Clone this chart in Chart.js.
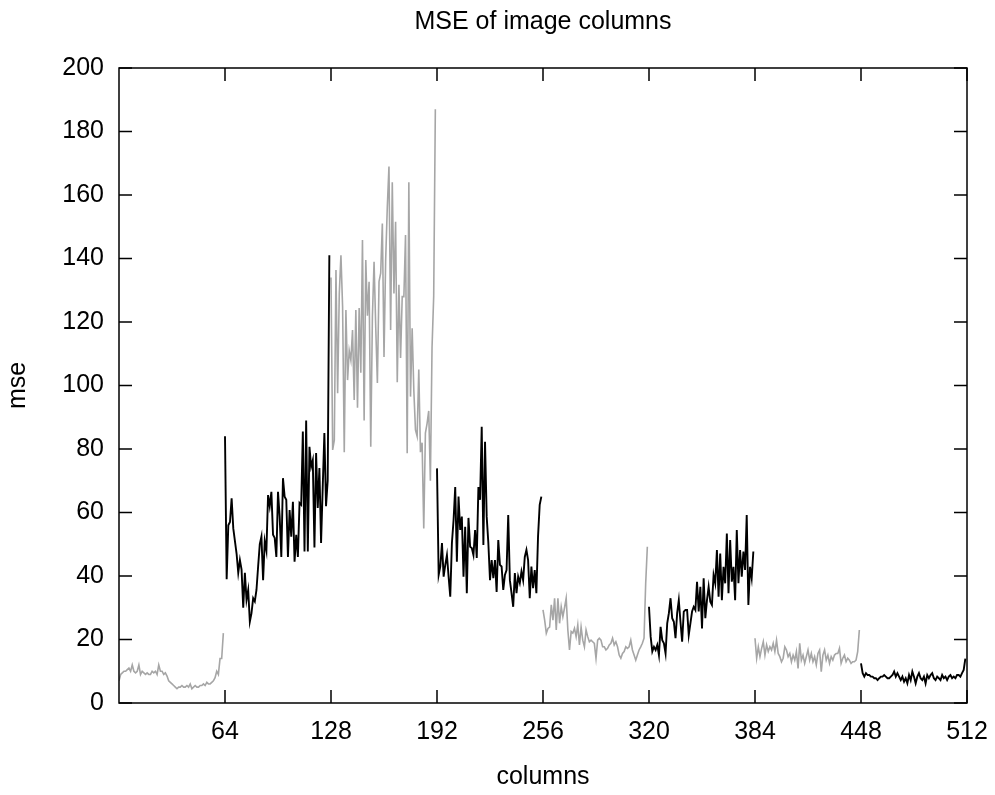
<!DOCTYPE html>
<html>
<head>
<meta charset="utf-8">
<script src="https://cdn.jsdelivr.net/npm/chart.js@4/dist/chart.umd.min.js"></script>
<style>
  html, body { margin: 0; padding: 0; background: #fff; }
  #wrap { width: 995px; height: 795px; }
</style>
</head>
<body>
<div id="wrap"><canvas id="myChart" width="995" height="795"></canvas></div>
<script>
// x ticks (columns) and y ticks (mse)
var xTicks = [64, 128, 192, 256, 320, 384, 448, 512];
var yTicks = [0, 20, 40, 60, 80, 100, 120, 140, 160, 180, 200];

// each block of 64 columns is its own line, alternating gray / black
var segStart = [0, 64, 128, 192, 256, 320, 384, 448];
var segColor = ['#a6a6a6', '#000000', '#a6a6a6', '#000000', '#a6a6a6', '#000000', '#a6a6a6', '#000000'];

var mse0 = [7, 9, 9.5, 10, 10, 10.5, 11, 10, 12, 10, 9.5, 10, 12, 9, 10, 9.5,
    9, 9.5, 9, 9, 10, 9.5, 10, 9, 12, 10, 10, 9, 9.5, 8.5, 7, 6.5,
    6, 5.5, 5, 4.5, 5, 5, 5.5, 5, 5, 5.5, 5, 6, 4.5, 5, 5.5, 5,
    5, 5.5, 5.5, 6, 5.5, 6.5, 6, 6, 6.5, 7, 8, 10, 9, 14, 14, 22];
var mse1 = [84, 39, 56, 57, 64.5, 55, 51, 47, 41, 45, 42, 30, 41, 32.5, 35.6, 25.6,
    28.3, 33, 32, 35.6, 43, 50, 52.4, 38.7, 51, 48, 65.5, 62, 66.5, 53, 52, 46,
    66.5, 58.7, 46, 70.8, 65, 64, 46, 60.8, 52.4, 63.4, 44.5, 53, 46, 63, 62.4, 85.5,
    47.7, 89, 47.7, 80.7, 74.4, 76.5, 49, 78.7, 61.4, 74, 50.4, 68, 85, 62, 70, 141];
var mse2 = [134, 79.7, 82.8, 136.4, 97.6, 129, 141, 124.8, 79, 123.8, 101.7, 111, 108, 117.5, 95.4, 123.8,
    93, 124.4, 104, 145.8, 89, 139.5, 122, 132.7, 80.7, 121.7, 139, 118.5, 100.8, 132.7, 135.4, 151,
    109, 139.5, 156.3, 169, 117.5, 164, 129, 151.6, 101, 131.7, 108.7, 128, 128, 147.4, 78.7, 164,
    96.5, 118, 98.6, 86, 84, 105, 79, 82, 55, 85, 88, 92, 70, 112, 128, 187];
var mse3 = [73.9, 40.3, 43, 50.4, 39.8, 43.5, 46.6, 39.8, 33.5, 50.4, 57.6, 68, 44.5, 65, 54.5, 58.7,
    39.8, 55.5, 34.6, 58.3, 49.2, 48.8, 46.6, 54.5, 45.7, 68, 64, 87, 49.8, 82.3, 58.7, 50.4,
    38.7, 45, 39.3, 45, 35, 51.3, 43.5, 43, 35.6, 40.3, 41.9, 59.2, 38.7, 34.6, 30.3, 40.9,
    34.6, 39.8, 37.8, 41.4, 38.7, 46, 48.2, 45, 33, 43, 36.2, 41.9, 34.6, 52.4, 62.4, 65];
var mse4 = [29.3, 26.1, 22, 23.5, 23.9, 30.9, 26.1, 33, 23, 33, 25.1, 30.3, 27.2, 30, 33, 23,
    16.7, 22.5, 22, 23.5, 20.9, 24.6, 18.3, 23.9, 19.8, 17.7, 23, 20.9, 19.3, 19.8, 19.3, 18.8,
    14.1, 19.8, 20.4, 19.8, 17.7, 17.7, 16.7, 17.2, 18.3, 18.8, 20.4, 18.3, 19.3, 17.7, 15.1, 14.1,
    15.6, 16.2, 17.7, 17.2, 17.7, 19.8, 16.7, 15.1, 13.5, 15.1, 16.7, 17.7, 18.8, 20.4, 37.7, 49.2];
var mse5 = [30.3, 20.9, 16.2, 17.7, 16.7, 18.3, 15.1, 24, 19.8, 18.8, 15.6, 25.1, 28.3, 33, 26.7, 25.6,
    20.4, 28.3, 32.4, 25.6, 19.3, 28.8, 29.3, 29.3, 21.4, 25.1, 28.8, 30.3, 29.3, 38.2, 28.8, 36.6,
    23.5, 39.3, 26.7, 32.4, 36.6, 31.9, 30.9, 40.3, 37.7, 48.2, 33.5, 47.1, 32.4, 42.9, 37.7, 53.4,
    34.6, 51.3, 38.2, 42.9, 32.4, 54.5, 37.7, 48.2, 39.8, 47.7, 41.9, 59.2, 30.9, 42.9, 39.3, 47.7];
var mse6 = [20.4, 14.1, 17.7, 14.6, 17.2, 19.3, 15.1, 18.3, 16.2, 17.7, 16.7, 18.8, 16.2, 19.8, 15.6, 14.6,
    13, 14.1, 17.7, 16.7, 14.6, 15.6, 13, 15.1, 13.5, 16.2, 10.9, 18.8, 13.5, 15.1, 12.5, 14.6,
    16.7, 13.5, 15.6, 13, 14.6, 12, 15.6, 16.7, 9.9, 15.1, 16.7, 13.5, 15.1, 12.5, 14.6, 13.5,
    15.1, 15.6, 15.6, 17.2, 12.5, 14.1, 15.1, 13, 14.1, 13.5, 12.5, 13, 13, 13.5, 16.2, 23];
var mse7 = [12.5, 9.4, 8.3, 9.4, 8.8, 8.8, 8.3, 8.3, 7.8, 7.8, 7.2, 7.8, 8.3, 8.3, 8.8, 8.3,
    7.8, 7.8, 8.3, 8.8, 9.9, 8.3, 9.4, 8.3, 7.2, 8.3, 6.7, 7.8, 6.2, 8.8, 7.2, 9.9,
    8.3, 6.2, 8.3, 9.4, 7.8, 7.2, 8.3, 6.2, 8.8, 7.8, 8.8, 9.4, 7.8, 7.2, 8.3, 7.8,
    7.2, 8.8, 7.8, 8.3, 7.2, 8.3, 8.8, 7.8, 8.3, 7.8, 8.8, 8.8, 8.3, 9.4, 10.4, 14];

var segments = [mse0, mse1, mse2, mse3, mse4, mse5, mse6, mse7];

var datasets = segments.map(function (vals, s) {
    return {
        data: vals.map(function (v, i) { return { x: segStart[s] + i, y: v }; }),
        borderColor: segColor[s],
        borderWidth: s % 2 ? 1.9 : 1.6,
        pointRadius: 0,
        tension: 0,
        fill: false
    };
});

var FONT = { family: '"Liberation Sans", Arial, sans-serif', size: 25 };

// gnuplot style frame with inward ticks on all four sides
var framePlugin = {
    id: 'frame',
    afterDraw: function (chart) {
        var c = chart.ctx, a = chart.chartArea;
        var xs = chart.scales.x, ys = chart.scales.y;
        var len = 13;
        c.save();
        c.strokeStyle = '#000';
        c.lineWidth = 1.5;
        c.beginPath();
        xTicks.forEach(function (t) {
            var px = xs.getPixelForValue(t);
            c.moveTo(px, a.bottom); c.lineTo(px, a.bottom - len);
            c.moveTo(px, a.top); c.lineTo(px, a.top + len);
        });
        yTicks.forEach(function (t) {
            var py = ys.getPixelForValue(t);
            c.moveTo(a.left, py); c.lineTo(a.left + len, py);
            c.moveTo(a.right, py); c.lineTo(a.right - len, py);
        });
        c.stroke();
        c.strokeRect(a.left, a.top, a.right - a.left, a.bottom - a.top);
        c.restore();
    }
};

var ctx = document.getElementById('myChart').getContext('2d');
var myChart = new Chart(ctx, {
    type: 'line',
    data: { datasets: datasets },
    plugins: [framePlugin],
    options: {
        responsive: false,
        animation: false,
        layout: { padding: { left: 0, right: 28, top: 0, bottom: 0 } },
        plugins: {
            legend: { display: false },
            tooltip: { enabled: false },
            title: {
                display: true,
                text: 'MSE of image columns',
                fullSize: false,
                color: '#000',
                font: { family: FONT.family, size: 25, weight: 'normal' },
                padding: { top: 7, bottom: 31 }
            }
        },
        scales: {
            x: {
                type: 'linear',
                min: 0,
                max: 512,
                afterBuildTicks: function (scale) {
                    scale.ticks = xTicks.map(function (v) { return { value: v }; });
                },
                afterFit: function (scale) {
                    scale.height = 92;
                    scale.paddingLeft = 0;
                    scale.paddingRight = 0;
                },
                grid: { display: false, drawTicks: false },
                border: { display: false },
                ticks: { color: '#000', font: FONT, padding: 14, maxRotation: 0, autoSkip: false },
                title: { display: true, text: 'columns', color: '#000', font: FONT, padding: { top: 0, bottom: 3 } }
            },
            y: {
                type: 'linear',
                min: 0,
                max: 200,
                afterBuildTicks: function (scale) {
                    scale.ticks = yTicks.map(function (v) { return { value: v }; });
                },
                afterFit: function (scale) {
                    scale.width = 119;
                    scale.paddingTop = 0;
                    scale.paddingBottom = 0;
                },
                grid: { display: false, drawTicks: false },
                border: { display: false },
                ticks: { color: '#000', font: FONT, padding: 15 },
                title: { display: true, text: 'mse', color: '#000', font: FONT, padding: { top: 3, bottom: 0 } }
            }
        }
    }
});
</script>
</body>
</html>
